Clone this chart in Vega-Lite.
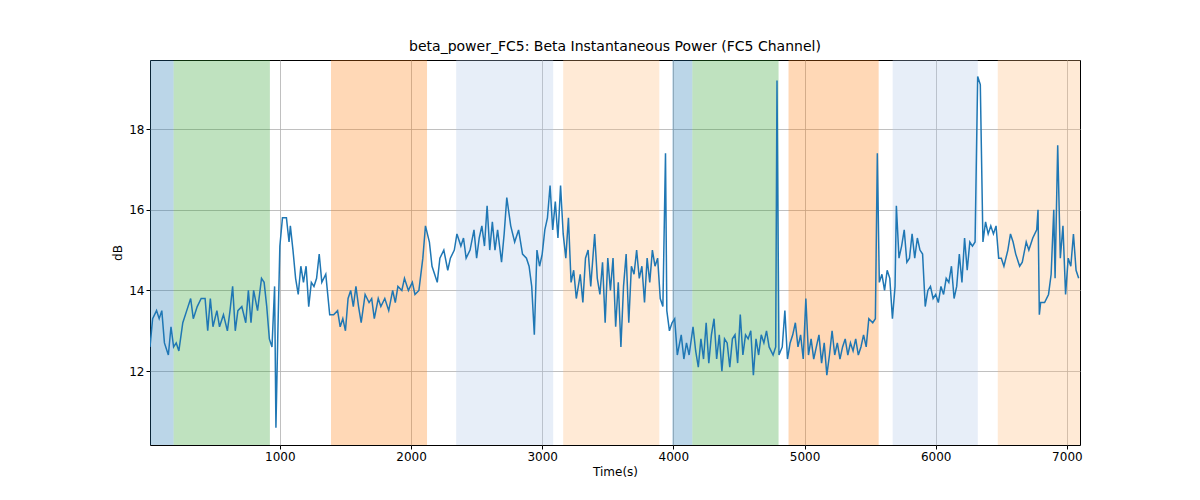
{
"$schema":"https://vega.github.io/schema/vega-lite/v6.json",
"width":930,"height":385,
"autosize":{"type":"none"},
"padding":{"left":150,"top":60,"right":120,"bottom":55},
"background":"white",
"config":{"font":"DejaVu Sans","view":{"stroke":"black","strokeWidth":1},
"axis":{"labelFont":"DejaVu Sans","titleFont":"DejaVu Sans","labelFontSize":12,"titleFontSize":12,"titleFontWeight":"normal","labelColor":"black","titleColor":"black","gridColor":"#b0b0b0","gridWidth":0.8,"tickColor":"black","domain":false,"tickSize":4}},
"title":{"text":"beta_power_FC5: Beta Instantaneous Power (FC5 Channel)","fontSize":14,"fontWeight":"normal","font":"DejaVu Sans","offset":6},
"datasets":{
"bands":[
{"s":10,"e":190,"k":"A"},{"s":190,"e":924,"k":"B"},{"s":1390,"e":2122,"k":"C"},{"s":2344,"e":3084,"k":"D"},{"s":3160,"e":3893,"k":"E"},
{"s":3992,"e":4145,"k":"A"},{"s":4145,"e":4802,"k":"B"},{"s":4878,"e":5565,"k":"C"},{"s":5672,"e":6321,"k":"D"},{"s":6473,"e":7100,"k":"E"}],
"line":[
{"t":10,"v":12.6},{"t":30,"v":13.3},{"t":60,"v":13.5},{"t":80,"v":13.3},{"t":100,"v":13.5},{"t":120,"v":12.7},{"t":150,"v":12.4},{"t":170,"v":13.1},{"t":190,"v":12.6},{"t":210,"v":12.7},{"t":230,"v":12.5},{"t":260,"v":13.2},{"t":290,"v":13.5},{"t":320,"v":13.8},{"t":340,"v":13.3},{"t":370,"v":13.6},{"t":400,"v":13.8},{"t":430,"v":13.8},{"t":450,"v":13.0},{"t":470,"v":13.8},{"t":490,"v":13.1},{"t":520,"v":13.5},{"t":540,"v":13.1},{"t":570,"v":13.4},{"t":600,"v":13.0},{"t":620,"v":13.5},{"t":640,"v":14.1},{"t":660,"v":13.0},{"t":680,"v":13.5},{"t":710,"v":13.6},{"t":740,"v":13.2},{"t":760,"v":14.0},{"t":780,"v":13.2},{"t":800,"v":14.0},{"t":830,"v":13.5},{"t":860,"v":14.3},{"t":880,"v":14.2},{"t":900,"v":13.6},{"t":920,"v":12.8},{"t":940,"v":12.6},{"t":960,"v":14.1},{"t":970,"v":10.6},{"t":985,"v":13.0},{"t":1000,"v":15.1},{"t":1020,"v":15.8},{"t":1050,"v":15.8},{"t":1070,"v":15.2},{"t":1080,"v":15.6},{"t":1100,"v":15.0},{"t":1120,"v":14.3},{"t":1140,"v":13.9},{"t":1160,"v":14.6},{"t":1180,"v":14.2},{"t":1200,"v":14.6},{"t":1220,"v":13.6},{"t":1240,"v":14.2},{"t":1260,"v":14.1},{"t":1280,"v":14.3},{"t":1300,"v":14.9},{"t":1320,"v":14.2},{"t":1350,"v":14.4},{"t":1380,"v":13.4},{"t":1410,"v":13.4},{"t":1440,"v":13.5},{"t":1460,"v":13.1},{"t":1480,"v":13.3},{"t":1500,"v":13.0},{"t":1520,"v":13.8},{"t":1540,"v":14.0},{"t":1560,"v":13.6},{"t":1580,"v":14.1},{"t":1600,"v":13.6},{"t":1620,"v":13.2},{"t":1650,"v":13.9},{"t":1680,"v":13.7},{"t":1700,"v":13.8},{"t":1720,"v":13.3},{"t":1750,"v":13.8},{"t":1770,"v":13.6},{"t":1800,"v":13.8},{"t":1830,"v":13.5},{"t":1860,"v":14.0},{"t":1880,"v":13.7},{"t":1900,"v":14.1},{"t":1930,"v":14.0},{"t":1950,"v":14.3},{"t":1980,"v":14.0},{"t":2010,"v":14.2},{"t":2030,"v":13.9},{"t":2060,"v":14.0},{"t":2090,"v":14.8},{"t":2110,"v":15.6},{"t":2140,"v":15.2},{"t":2160,"v":14.6},{"t":2180,"v":14.4},{"t":2200,"v":14.2},{"t":2220,"v":14.8},{"t":2250,"v":15.0},{"t":2280,"v":14.5},{"t":2300,"v":14.8},{"t":2330,"v":15.0},{"t":2350,"v":15.4},{"t":2380,"v":15.1},{"t":2400,"v":15.3},{"t":2420,"v":14.8},{"t":2450,"v":15.0},{"t":2480,"v":15.5},{"t":2500,"v":14.8},{"t":2520,"v":15.3},{"t":2540,"v":15.6},{"t":2560,"v":15.1},{"t":2580,"v":16.1},{"t":2600,"v":15.0},{"t":2620,"v":15.7},{"t":2640,"v":15.0},{"t":2660,"v":15.5},{"t":2690,"v":14.7},{"t":2710,"v":15.4},{"t":2730,"v":16.3},{"t":2760,"v":15.6},{"t":2790,"v":15.2},{"t":2820,"v":15.5},{"t":2850,"v":14.9},{"t":2880,"v":14.8},{"t":2900,"v":14.6},{"t":2920,"v":14.1},{"t":2940,"v":12.9},{"t":2960,"v":15.0},{"t":2980,"v":14.6},{"t":3000,"v":14.9},{"t":3020,"v":15.5},{"t":3040,"v":15.8},{"t":3060,"v":16.6},{"t":3080,"v":15.5},{"t":3100,"v":16.2},{"t":3120,"v":15.3},{"t":3140,"v":16.6},{"t":3160,"v":15.4},{"t":3180,"v":14.8},{"t":3200,"v":15.8},{"t":3220,"v":14.2},{"t":3240,"v":14.5},{"t":3260,"v":13.8},{"t":3290,"v":14.4},{"t":3310,"v":13.7},{"t":3330,"v":14.8},{"t":3350,"v":15.0},{"t":3370,"v":14.1},{"t":3400,"v":15.4},{"t":3420,"v":14.3},{"t":3440,"v":13.9},{"t":3460,"v":14.7},{"t":3480,"v":13.2},{"t":3500,"v":14.8},{"t":3520,"v":14.0},{"t":3540,"v":14.8},{"t":3560,"v":13.1},{"t":3580,"v":14.2},{"t":3600,"v":12.6},{"t":3620,"v":14.1},{"t":3640,"v":14.9},{"t":3660,"v":13.2},{"t":3680,"v":14.6},{"t":3700,"v":14.4},{"t":3720,"v":15.0},{"t":3740,"v":14.3},{"t":3760,"v":14.6},{"t":3780,"v":13.7},{"t":3800,"v":14.8},{"t":3820,"v":14.2},{"t":3840,"v":15.0},{"t":3860,"v":14.6},{"t":3880,"v":14.8},{"t":3900,"v":13.8},{"t":3920,"v":13.6},{"t":3940,"v":17.4},{"t":3950,"v":13.5},{"t":3970,"v":13.0},{"t":3990,"v":13.2},{"t":4010,"v":13.3},{"t":4030,"v":12.4},{"t":4060,"v":12.9},{"t":4080,"v":12.3},{"t":4100,"v":12.7},{"t":4120,"v":12.4},{"t":4150,"v":13.1},{"t":4170,"v":12.5},{"t":4190,"v":12.1},{"t":4210,"v":12.8},{"t":4230,"v":12.3},{"t":4250,"v":13.2},{"t":4270,"v":12.2},{"t":4290,"v":12.9},{"t":4310,"v":13.3},{"t":4330,"v":12.3},{"t":4350,"v":12.9},{"t":4370,"v":12.0},{"t":4390,"v":12.8},{"t":4410,"v":12.7},{"t":4430,"v":12.1},{"t":4450,"v":12.8},{"t":4470,"v":12.9},{"t":4490,"v":12.2},{"t":4510,"v":13.4},{"t":4530,"v":12.4},{"t":4550,"v":12.9},{"t":4570,"v":12.8},{"t":4590,"v":13.0},{"t":4610,"v":11.9},{"t":4630,"v":12.8},{"t":4650,"v":12.4},{"t":4670,"v":12.9},{"t":4690,"v":12.7},{"t":4710,"v":13.0},{"t":4730,"v":12.6},{"t":4760,"v":12.4},{"t":4780,"v":12.6},{"t":4790,"v":19.2},{"t":4805,"v":12.4},{"t":4830,"v":12.6},{"t":4850,"v":13.5},{"t":4870,"v":12.3},{"t":4890,"v":12.7},{"t":4910,"v":12.9},{"t":4930,"v":13.2},{"t":4950,"v":12.6},{"t":4970,"v":12.9},{"t":4990,"v":12.3},{"t":5010,"v":13.8},{"t":5030,"v":12.4},{"t":5050,"v":12.8},{"t":5070,"v":12.3},{"t":5090,"v":12.6},{"t":5110,"v":12.9},{"t":5130,"v":12.2},{"t":5150,"v":12.7},{"t":5170,"v":11.9},{"t":5190,"v":12.4},{"t":5210,"v":13.0},{"t":5230,"v":12.4},{"t":5250,"v":12.7},{"t":5270,"v":12.3},{"t":5290,"v":12.6},{"t":5310,"v":12.8},{"t":5330,"v":12.4},{"t":5350,"v":12.7},{"t":5370,"v":12.5},{"t":5390,"v":12.8},{"t":5410,"v":12.4},{"t":5430,"v":12.6},{"t":5450,"v":12.9},{"t":5470,"v":12.6},{"t":5490,"v":13.3},{"t":5520,"v":13.2},{"t":5540,"v":13.3},{"t":5555,"v":17.4},{"t":5570,"v":14.2},{"t":5590,"v":14.4},{"t":5610,"v":14.0},{"t":5630,"v":14.5},{"t":5650,"v":14.3},{"t":5670,"v":13.3},{"t":5690,"v":14.1},{"t":5700,"v":16.1},{"t":5720,"v":14.8},{"t":5740,"v":15.1},{"t":5760,"v":15.5},{"t":5780,"v":14.7},{"t":5800,"v":14.8},{"t":5820,"v":15.4},{"t":5840,"v":14.8},{"t":5860,"v":15.3},{"t":5880,"v":15.0},{"t":5900,"v":14.9},{"t":5920,"v":13.6},{"t":5940,"v":14.0},{"t":5960,"v":14.1},{"t":5980,"v":13.8},{"t":6000,"v":13.9},{"t":6020,"v":13.7},{"t":6040,"v":14.1},{"t":6060,"v":13.9},{"t":6080,"v":14.3},{"t":6100,"v":14.2},{"t":6120,"v":14.6},{"t":6140,"v":13.8},{"t":6160,"v":14.1},{"t":6180,"v":14.9},{"t":6200,"v":14.2},{"t":6220,"v":15.3},{"t":6240,"v":14.5},{"t":6260,"v":15.2},{"t":6280,"v":15.1},{"t":6300,"v":15.2},{"t":6320,"v":19.3},{"t":6340,"v":19.1},{"t":6360,"v":15.2},{"t":6380,"v":15.7},{"t":6400,"v":15.4},{"t":6420,"v":15.6},{"t":6440,"v":15.4},{"t":6460,"v":15.6},{"t":6480,"v":14.8},{"t":6500,"v":14.8},{"t":6520,"v":14.6},{"t":6550,"v":15.0},{"t":6570,"v":15.4},{"t":6590,"v":15.2},{"t":6610,"v":14.9},{"t":6640,"v":14.6},{"t":6660,"v":14.7},{"t":6690,"v":15.2},{"t":6710,"v":15.0},{"t":6740,"v":15.3},{"t":6770,"v":15.5},{"t":6780,"v":16.0},{"t":6790,"v":13.4},{"t":6800,"v":13.7},{"t":6830,"v":13.7},{"t":6860,"v":13.9},{"t":6880,"v":14.4},{"t":6900,"v":16.0},{"t":6910,"v":14.3},{"t":6930,"v":17.6},{"t":6950,"v":14.8},{"t":6970,"v":15.6},{"t":6990,"v":13.9},{"t":7010,"v":14.8},{"t":7030,"v":14.6},{"t":7050,"v":15.4},{"t":7070,"v":14.5},{"t":7090,"v":14.3}]
},
"layer":[
{"data":{"name":"bands"},"mark":{"type":"rect","opacity":0.3},
"encoding":{
"x":{"field":"s","type":"quantitative","scale":{"domain":[10,7100],"nice":false,"zero":false},"axis":{"title":"Time(s)","values":[1000,2000,3000,4000,5000,6000,7000],"format":"d","grid":true}},
"x2":{"field":"e"},
"y":{"datum":10.17,"type":"quantitative"},"y2":{"datum":19.71},
"color":{"field":"k","type":"nominal","legend":null,"scale":{"domain":["A","B","C","D","E"],"range":["#1f77b4","#2ca02c","#ff7f0e","#aec7e8","#ffbb78"]}}}},
{"data":{"name":"line"},"mark":{"type":"line","color":"#1f77b4","strokeWidth":1.5,"clip":true},
"encoding":{
"x":{"field":"t","type":"quantitative"},
"y":{"field":"v","type":"quantitative","scale":{"domain":[10.17,19.71],"nice":false,"zero":false},"axis":{"title":"dB","values":[12,14,16,18],"grid":true}}}}
]
}
